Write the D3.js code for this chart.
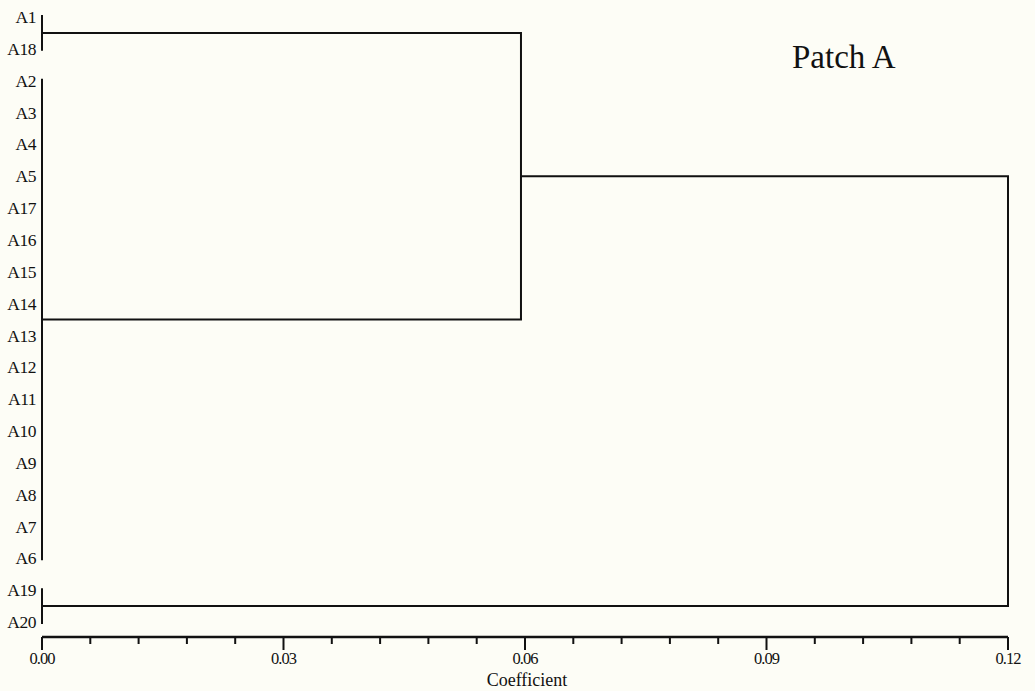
<!DOCTYPE html>
<html>
<head>
<meta charset="utf-8">
<script src="https://cdn.jsdelivr.net/npm/d3@7"></script>
<style>
  body { margin: 0; background: #fdfdf6; }
  svg { display: block; }
  text { font-family: "Liberation Serif", "DejaVu Serif", serif; fill: #111; }
</style>
</head>
<body>
<div id="chart"></div>
<script>
// leaf order, top to bottom
const leafOrder = ["A1", "A18", "A2", "A3", "A4", "A5", "A17", "A16", "A15", "A14",
  "A13", "A12", "A11", "A10", "A9", "A8", "A7", "A6", "A19", "A20"];

// clusters formed at zero distance
const clusterMembers = [
  ["A1", "A18"],
  ["A2", "A3", "A4", "A5", "A17", "A16", "A15", "A14", "A13", "A12", "A11", "A10", "A9", "A8", "A7", "A6"],
  ["A19", "A20"]
];
const clusterHeights = [0, 0, 0];

// later joins: indices into cluster list (new clusters get appended)
const joinPairs = [[0, 1], [3, 2]];
const joinHeights = [0.0595, 0.12];

const tickValues = d3.range(0, 21).map(i => +(i * 0.006).toFixed(3));
const labelTicks = [0, 0.03, 0.06, 0.09, 0.12];
const title = "Patch A";
const xTitle = "Coefficient";

const width = 1035, height = 691;

const svg = d3.select("#chart").append("svg")
  .attr("width", width)
  .attr("height", height);

svg.append("rect").attr("width", width).attr("height", height).attr("fill", "#fdfdf6");

const x = d3.scaleLinear().domain([0, 0.12]).range([42, 1008]);
const y = d3.scalePoint().domain(leafOrder).range([17, 622]);

const g = svg.append("g")
  .attr("stroke", "#111")
  .attr("stroke-width", 2)
  .attr("fill", "none");

// each cluster: {top, bottom, mid, h}
const nodes = [];
clusterMembers.forEach((m, i) => {
  const ys = m.map(d => y(d));
  const top = d3.min(ys), bottom = d3.max(ys);
  nodes.push({top: top, bottom: bottom, mid: (top + bottom) / 2, h: clusterHeights[i]});
  g.append("line")
    .attr("x1", x(clusterHeights[i])).attr("x2", x(clusterHeights[i]))
    .attr("y1", top - 2).attr("y2", bottom + 2);
});

joinPairs.forEach((p, i) => {
  const a = nodes[p[0]], b = nodes[p[1]];
  const h = joinHeights[i];
  const top = Math.min(a.mid, b.mid), bottom = Math.max(a.mid, b.mid);
  g.append("path")
    .attr("d", `M${x(a.h)},${a.mid}H${x(h)}V${b.mid}H${x(b.h)}`);
  nodes.push({top: top, bottom: bottom, mid: (top + bottom) / 2, h: h});
});

// leaf labels
svg.append("g")
  .selectAll("text")
  .data(leafOrder)
  .join("text")
    .attr("x", 36)
    .attr("y", d => y(d))
    .attr("dy", "0.35em")
    .attr("text-anchor", "end")
    .attr("font-size", 17.5)
    .attr("letter-spacing", -0.5)
    .text(d => d);

// axis
const axisY = 637;
const axis = svg.append("g").attr("transform", `translate(0,${axisY})`);
axis.append("line")
  .attr("x1", x(0)).attr("x2", x(0.12))
  .attr("stroke", "#111").attr("stroke-width", 2.5);
axis.selectAll(".tick")
  .data(tickValues)
  .join("line")
    .attr("class", "tick")
    .attr("x1", d => x(d)).attr("x2", d => x(d))
    .attr("y1", 0)
    .attr("y2", d => labelTicks.some(t => Math.abs(t - d) < 1e-9) ? 13 : 7)
    .attr("stroke", "#111").attr("stroke-width", 2);
axis.selectAll(".tl")
  .data(labelTicks)
  .join("text")
    .attr("class", "tl")
    .attr("x", d => x(d))
    .attr("y", 27)
    .attr("text-anchor", "middle")
    .attr("font-size", 16.5)
    .attr("letter-spacing", -1)
    .text(d => d3.format(".2f")(d));

svg.append("text")
  .attr("x", x(0.06) + 2)
  .attr("y", 686)
  .attr("text-anchor", "middle")
  .attr("font-size", 18)
  .text(xTitle);

svg.append("text")
  .attr("x", 792)
  .attr("y", 68)
  .attr("font-size", 33)
  .text(title);
</script>
</body>
</html>
